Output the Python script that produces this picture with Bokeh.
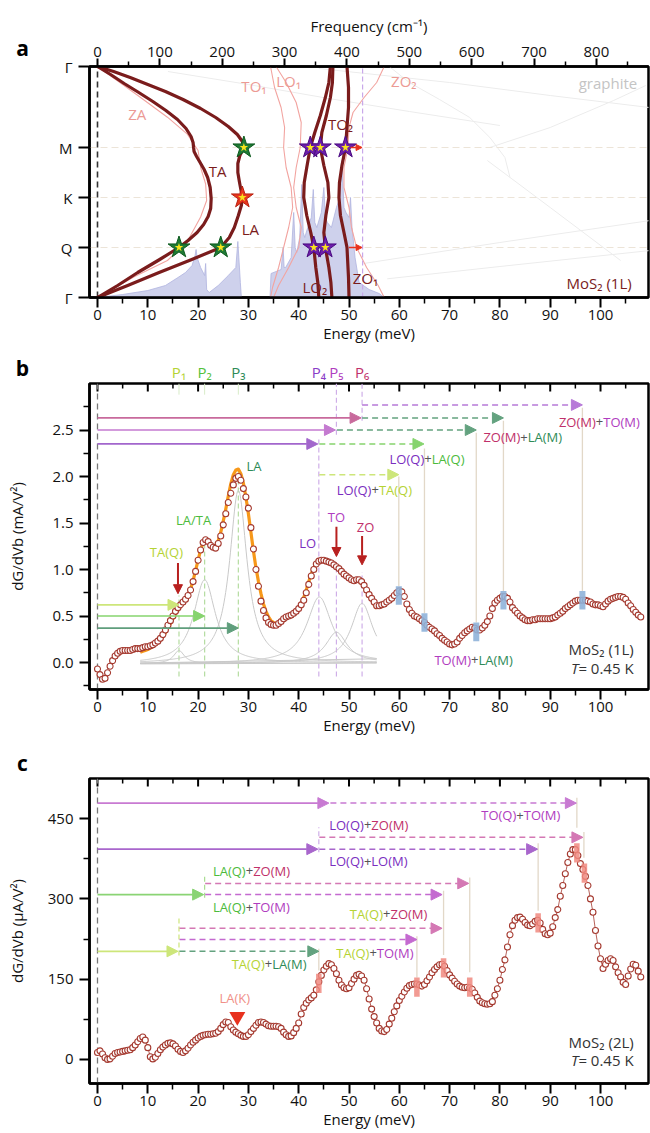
import numpy as np
from bokeh.plotting import figure
from bokeh.models import (Range1d, LinearAxis, FixedTicker, Arrow, NormalHead,
                          ColumnDataSource, PrintfTickFormatter)
from bokeh.layouts import column, row
from bokeh.embed import file_html
from bokeh.resources import INLINE
from bokeh.core.properties import value

FONT = "Open Sans"

# ============================ DATA ============================
E_RANGE = (-1.59, 109.54)
CM_PER_MEV = 8.0655
E_TICKS = list(range(0, 101, 10))
E_MINOR = list(range(5, 110, 10))
FREQ_TICKS = list(range(0, 801, 100))
FREQ_MINOR = list(range(50, 900, 100))

# ---- panel a : dispersion, y = path coordinate (Γ-Q-K-M-Γ) ----
K_TICKS = [0, 50, 100, 150, 231]
K_LABELS = ["Γ", "Q", "K", "M", "Γ"]

TA_E = [0, 4.0, 8.0, 12.2, 16.2, 18.0, 19.8, 21.1, 22.0, 22.5, 22.6, 22.4, 21.9, 21.2, 20.4,
        19.7, 19.2, 19.1, 19.0, 18.6, 17.6, 15.9, 13.6, 11.0, 8.2, 5.3, 2.6, 0]
TA_K = [0, 12, 25, 37.5, 50, 57, 65, 73, 81, 89, 99, 110, 120, 128, 135,
        141, 146, 150, 155, 161, 169, 178, 187, 196, 205, 214, 223, 231]
LA_E = [0, 6, 12, 18.5, 24.5, 26.2, 27.2, 28.0, 28.6, 28.8, 28.5, 28.2, 27.9, 27.9, 28.3, 29.1,
        28.8, 27.8, 26.0, 23.5, 20.5, 17.0, 13.5, 10.0, 6.5, 3.2, 0]
LA_K = [0, 12, 24.5, 37.5, 50, 60, 70, 82, 92, 100, 108, 116, 125, 134, 142, 150,
        156, 163, 171, 180, 189, 198, 206, 213, 220, 226, 231]
OPT1_E = [44.0, 43.8, 43.4, 43.0, 42.4, 41.6, 41.0, 41.1, 41.6, 42.3, 43.2, 44.3, 45.3, 46.0, 46.3]
OPT1_K = [0, 15, 30, 50, 65, 82, 100, 115, 130, 150, 165, 182, 200, 215, 231]
OPT2_E = [46.6, 46.4, 46.0, 45.3, 45.0, 45.4, 46.0, 45.8, 45.0, 44.3, 44.6, 45.5, 46.3, 46.7, 46.8]
OPT2_K = [0, 15, 30, 50, 65, 82, 100, 115, 132, 150, 165, 182, 200, 215, 231]
OPT3_E = [50.0, 49.9, 49.7, 49.6, 49.0, 48.3, 48.0, 48.1, 48.6, 49.3, 49.6, 49.9, 49.9, 49.6]
OPT3_K = [0, 20, 40, 50, 65, 82, 100, 115, 132, 150, 170, 190, 210, 231]

ZA_E = [0, 7.2, 13.9, 17.8, 20.5, 21.7, 21.5, 20.5, 20.0, 17.8, 13.9, 8.5, 3.9, 0]
ZA_K = [0, 20.5, 37, 55.5, 80.5, 97, 113.5, 130, 147, 163.7, 180.3, 200.3, 217, 231]
TO1_E = [34.4, 34.8, 36.0, 37.0, 38.0, 38.8, 38.5, 37.5, 37.0, 37.2, 36.5, 35.2, 34.4]
TO1_K = [0, 10, 30, 50, 70, 90, 110, 130, 150, 170, 190, 210, 231]
LO1_E = [35.0, 36.0, 38.0, 40.0, 40.5, 39.5, 39.0, 39.5, 40.3, 40.5, 39.5, 37.5, 35.5]
LO1_K = [0, 12, 30, 50, 70, 90, 110, 130, 150, 175, 195, 215, 231]
ZO2_E = [57.0, 55.8, 53.5, 51.5, 50.5, 50.0, 49.0, 49.0, 49.8, 50.0, 50.8, 53.0, 55.5, 57.0]
ZO2_K = [0, 12, 30, 50, 70, 90, 110, 130, 150, 170, 185, 200, 215, 231]

DOS_E = [0, 5, 10, 13.5, 16, 17.5, 18.8, 19.4, 19.6, 19.8, 20.5, 21.3, 21.5, 21.7, 22.2, 24, 26,
         27.5, 27.9, 28.1, 28.4, 28.6, 34.3, 34.5, 36.5, 36.9, 37.1, 37.4, 38.5, 39.0, 39.3,
         39.6, 40.2, 40.6, 40.9, 41.2, 41.8, 42.5, 42.9, 43.2, 43.6, 44.5, 45.0, 45.3, 45.7,
         46.5, 47.5, 48.2, 48.6, 49.0, 49.4, 50.0, 50.3, 50.6, 51.2, 52, 54, 56, 57]
DOS_H = [0, 3, 7, 12, 20, 25, 32, 42, 48, 40, 30, 22, 34, 8, 5, 12, 22,
         30, 56, 40, 15, 0, 0, 24, 28, 50, 30, 30, 40, 85, 50,
         45, 60, 113, 65, 60, 70, 80, 108, 75, 70, 85, 110, 80, 75,
         70, 90, 100, 137, 90, 85, 80, 100, 70, 40, 15, 8, 4, 0]

GRAPHITE = [
    ([44, 70, 90, 109.7], [229, 215, 202, 190]),
    ([14, 30, 46, 62, 80], [226, 213, 199, 186, 172]),
    ([58, 62, 68, 74, 78, 81, 82], [231, 215, 198, 180, 160, 140, 120]),
    ([78, 90, 102.6, 109], [150, 170, 197, 212]),
    ([57.6, 80, 109.9], [18.7, 31, 47]),
    ([52.9, 80, 109.9], [34, 55, 77]),
    ([77.5, 90, 104], [137, 90, 37]),
]

STAR_GREEN = ([16.2, 24.5, 29.1], [50, 50, 150])
STAR_RED = ([28.8], [100])
STAR_PURPLE = ([43.0, 45.3, 42.3, 44.3, 49.3], [50, 50, 150, 150, 150])

# ---- panel b : MoS2 1L, dG/dVb (mA/V^2), 0.5 meV steps from 0 ----
B_E0, B_STEP = 0.0, 0.5
B_VALS = [
    -0.07, -0.13, -0.18, -0.17, -0.11, -0.04, 0.02, 0.07, 0.10, 0.12,
    0.13, 0.13, 0.13, 0.13, 0.14, 0.15, 0.15, 0.15, 0.16, 0.17,
    0.17, 0.18, 0.19, 0.21, 0.23, 0.26, 0.30, 0.35, 0.40, 0.45,
    0.50, 0.55, 0.59, 0.62, 0.65, 0.68, 0.72, 0.78, 0.87, 0.98,
    1.10, 1.21, 1.29, 1.32, 1.30, 1.26, 1.24, 1.23, 1.28, 1.36,
    1.48, 1.60, 1.72, 1.82, 1.91, 1.98, 2.00, 1.96, 1.87, 1.78,
    1.66, 1.45, 1.22, 1.00, 0.82, 0.66, 0.56, 0.48, 0.43, 0.41,
    0.40, 0.40, 0.42, 0.44, 0.47, 0.49, 0.50, 0.51, 0.53, 0.55,
    0.58, 0.62, 0.67, 0.75, 0.84, 0.93, 1.00, 1.06, 1.09, 1.10,
    1.10, 1.09, 1.08, 1.07, 1.05, 1.03, 1.01, 0.98, 0.95, 0.93,
    0.91, 0.89, 0.88, 0.89, 0.89, 0.87, 0.83, 0.78, 0.73, 0.69,
    0.65, 0.61, 0.61, 0.62, 0.63, 0.65, 0.67, 0.69, 0.72, 0.75,
    0.77, 0.76, 0.71, 0.63, 0.57, 0.53, 0.50, 0.49, 0.47, 0.45,
    0.43, 0.40, 0.38, 0.36, 0.34, 0.31, 0.29, 0.26, 0.24, 0.22,
    0.20, 0.19, 0.20, 0.22, 0.26, 0.29, 0.32, 0.34, 0.36, 0.38,
    0.37, 0.35, 0.35, 0.37, 0.40, 0.44, 0.50, 0.58, 0.64, 0.67,
    0.69, 0.71, 0.71, 0.69, 0.65, 0.59, 0.56, 0.53, 0.50, 0.48,
    0.46, 0.45, 0.45, 0.46, 0.46, 0.47, 0.47, 0.47, 0.47, 0.47,
    0.47, 0.48, 0.49, 0.51, 0.53, 0.55, 0.58, 0.60, 0.62, 0.64,
    0.66, 0.67, 0.67, 0.67, 0.67, 0.66, 0.65, 0.63, 0.62, 0.62,
    0.61, 0.60, 0.63, 0.66, 0.68, 0.69, 0.70, 0.71, 0.71, 0.70,
    0.68, 0.64, 0.61, 0.57, 0.54, 0.51, 0.49]
B_FIT_E0 = 8.5
B_FIT = [
    0.11, 0.12, 0.13, 0.14, 0.155, 0.17, 0.19, 0.21, 0.24,
    0.28, 0.32, 0.37, 0.42, 0.47, 0.52, 0.56, 0.60, 0.64, 0.68,
    0.73, 0.79, 0.88, 0.99, 1.10, 1.21, 1.29, 1.32, 1.31, 1.27,
    1.25, 1.26, 1.31, 1.40, 1.52, 1.65, 1.79, 1.92, 2.02, 2.07,
    2.08, 2.03, 1.93, 1.78, 1.60, 1.40, 1.20, 1.02, 0.87, 0.74,
    0.63, 0.55, 0.49, 0.45, 0.43, 0.42, 0.42, 0.43, 0.45, 0.47,
    0.49, 0.51, 0.53, 0.56, 0.59, 0.64, 0.70, 0.78, 0.87, 0.95,
    1.02, 1.07, 1.09, 1.10, 1.09, 1.08, 1.07, 1.06, 1.04, 1.02,
    0.99, 0.96, 0.94, 0.92, 0.90, 0.89, 0.88, 0.88, 0.87, 0.85,
    0.81, 0.77, 0.72, 0.67, 0.62, 0.58]
# Lorentzian components of the fit (centre, amplitude, half width)
LOR_C = [16.2, 21.3, 28.0, 44.1, 47.5, 52.6]
LOR_A = [0.14, 0.90, 1.86, 0.71, 0.33, 0.64]
LOR_W = [1.3, 2.6, 2.1, 3.0, 2.6, 2.6]
FIT_RANGE = (8.5, 55.5)

P_NAMES = ["P₁", "P₂", "P₃", "P₄", "P₅", "P₆"]
P_E = [16.2, 21.3, 28.0, 44.0, 47.5, 52.6]

B_ARROWS = [  # x_start, y, x_end, colour, dashed
    (0, 2.63, 52.4, "#c86a9c", False), (52.6, 2.63, 80.7, "#63a27f", True),
    (0, 2.50, 47.3, "#c47ad0", False), (47.6, 2.50, 75.3, "#63a27f", True),
    (0, 2.35, 43.8, "#a266cc", False), (44.1, 2.35, 64.9, "#86d46e", True),
    (44.1, 2.02, 59.9, "#cde67a", True), (52.6, 2.77, 96.4, "#b77ad8", True),
    (0, 0.62, 16.2, "#cde67a", False), (0, 0.50, 21.3, "#86d46e", False),
    (0, 0.37, 28.0, "#5f9e7c", False)]
B_MARK_E = [59.9, 65.0, 75.3, 80.7, 96.4]
B_MARK_Y = [0.72, 0.43, 0.33, 0.67, 0.67]
B_MARK_TOP = [2.0, 2.3, 2.47, 2.6, 2.74]

# ---- panel c : MoS2 2L, dG/dVb (µA/V^2), 0.5 meV steps from 0 ----
C_E0, C_STEP = 0.0, 0.5
C_VALS = [
    13, 16, 10, 3, 0, 1, 6, 11, 13, 14,
    15, 16, 17, 18, 22, 27, 33, 39, 42, 36,
    22, 5, 1, 4, 11, 18, 23, 27, 30, 31,
    29, 25, 19, 15, 13, 16, 21, 27, 32, 36,
    40, 43, 45, 46, 47, 47, 48, 49, 52, 58,
    65, 70, 69, 61, 55, 51, 48, 45, 43, 43,
    46, 52, 58, 64, 69, 70, 69, 66, 63, 62,
    62, 62, 61, 58, 51, 46, 43, 44, 50, 58,
    68, 85, 97, 105, 111, 115, 120, 130, 145, 157,
    167, 174, 179, 177, 170, 160, 148, 139, 134, 132,
    134, 142, 150, 157, 159, 156, 148, 132, 113, 94,
    80, 68, 58, 53, 52, 56, 66, 77, 89, 100,
    110, 118, 126, 133, 138, 140, 141, 141, 139, 137,
    140, 147, 154, 162, 168, 173, 177, 178, 174, 166,
    158, 152, 146, 141, 137, 135, 134, 135, 134, 131,
    124, 116, 109, 106, 104, 103, 104, 108, 120, 132,
    148, 168, 186, 210, 233, 250, 260, 265, 266, 262,
    256, 251, 250, 253, 258, 260, 255, 243, 235, 233,
    236, 248, 265, 280, 305, 325, 347, 368, 384, 392,
    392, 381, 366, 355, 342, 325, 300, 275, 241, 212,
    188, 170, 178, 185, 188, 185, 173, 162, 154, 144,
    140, 156, 169, 178, 176, 165, 154]
C_ARROWS = [
    (0, 479, 46.0, "#c87ad2", False), (46.3, 479, 95.2, "#c87ad2", True),
    (44.1, 415, 96.5, "#d478b4", True),
    (0, 393, 43.8, "#a866cc", False), (44.1, 393, 87.5, "#a866cc", True),
    (21.4, 329, 73.8, "#d478b4", True),
    (0, 308, 21.1, "#8ad474", False), (21.4, 308, 68.5, "#c46ad0", True),
    (16.3, 245, 68.5, "#d478b4", True), (16.3, 224, 63.5, "#c46ad0", True),
    (0, 202, 16.0, "#cde67a", False), (16.3, 202, 44.0, "#63a27f", True)]
C_MARK_E = [44.0, 63.5, 68.8, 74.0, 87.6, 95.3, 96.8]
C_MARK_Y = [142, 135, 171, 135, 255, 386, 348]
C_TAN = [(95.3, 489, 433), (96.7, 425, 377), (87.6, 404, 278), (74.0, 340, 163),
         (68.8, 315, 195), (63.5, 230, 153), (44.0, 207, 166)]

# ============================ STYLE HELPERS ============================
W, BL, BR = 650, 89, 2
FRAME_W = W - BL - BR
PX_PER_MEV = FRAME_W / (E_RANGE[1] - E_RANGE[0])
FULL_X = (E_RANGE[0] - BL / PX_PER_MEV, E_RANGE[1] + BR / PX_PER_MEV)
LETTER_X = FULL_X[0] + 22 / PX_PER_MEV
DARK = "#7a1c1c"
PINK = "#f2a4a0"
PINK_T = "#ec9a94"
C_TA, C_LAQ, C_LAM = "#b5d334", "#4cbb3c", "#2e8b57"
C_LO, C_TO, C_ZO, C_PL = "#7a2ec0", "#b03cc0", "#c0306a", "#555555"
TAN = "#e2d8c8"


def make_fig(w, h, yr, bl, bt, bb):
    p = figure(width=w, height=h, x_range=Range1d(*E_RANGE), y_range=yr,
               output_backend="svg", toolbar_location=None, frame_align=False,
               min_border_left=bl, min_border_right=BR, min_border_top=bt,
               min_border_bottom=bb, x_axis_location=None, y_axis_location=None)
    p.grid.visible = False
    p.outline_line_color = "black"
    p.outline_line_width = 2.5
    p.outline_line_alpha = 1.0
    p.background_fill_color = "white"
    p.border_fill_color = "white"
    return p


def strip(w, h, xr):
    p = figure(width=w, height=h, x_range=Range1d(*xr), y_range=Range1d(0, h),
               output_backend="svg", toolbar_location=None, min_border=0,
               frame_align=False, x_axis_location=None, y_axis_location=None)
    p.grid.visible = False
    p.outline_line_color = None
    p.background_fill_color = "white"
    p.border_fill_color = "white"
    return p


def style(ax):
    ax.axis_line_width = 2.5
    ax.major_tick_line_width = 2
    ax.minor_tick_line_width = 1.5
    ax.major_tick_out = 10
    ax.major_tick_in = 0
    ax.minor_tick_out = 6
    ax.minor_tick_in = 0
    ax.major_label_text_font = FONT
    ax.major_label_text_font_size = "15px"
    ax.major_label_text_color = "#111111"
    ax.axis_label_text_font = FONT
    ax.axis_label_text_font_size = "15px"
    ax.axis_label_text_font_style = "normal"
    ax.axis_label_text_color = "#111111"
    ax.major_label_standoff = 2
    ax.axis_label_standoff = 0


def energy_axis(p):
    ax = LinearAxis(ticker=FixedTicker(ticks=E_TICKS, minor_ticks=E_MINOR),
                    axis_label="Energy (meV)")
    style(ax)
    p.add_layout(ax, "below")
    return ax


def value_axis(p, ticks, minor, label, standoff, fmt=None):
    ax = LinearAxis(ticker=FixedTicker(ticks=ticks, minor_ticks=minor), axis_label=label)
    if fmt is not None:
        ax.formatter = fmt
    style(ax)
    ax.major_label_standoff = 6
    ax.axis_label_standoff = standoff
    p.add_layout(ax, "left")


def inner_top_ticks(p, ytop, per_px):
    p.segment(x0=E_TICKS, x1=E_TICKS, y0=[ytop] * len(E_TICKS),
              y1=[ytop - 8 * per_px] * len(E_TICKS), line_color="black", line_width=2)
    p.segment(x0=E_MINOR, x1=E_MINOR, y0=[ytop] * len(E_MINOR),
              y1=[ytop - 5 * per_px] * len(E_MINOR), line_color="black", line_width=1.5)


def draw_texts(p, items):
    groups = {}
    for it in items:
        key = (it.get("al", "center"), it.get("st", "normal"), it.get("sz", 13))
        groups.setdefault(key, []).append(it)
    for (al, st, sz), its in groups.items():
        src = ColumnDataSource(dict(x=[i["x"] for i in its], y=[i["y"] for i in its],
                                    t=[i["t"] for i in its], c=[i["c"] for i in its],
                                    xo=[i.get("xo", 0) for i in its]))
        p.text(x="x", y="y", text="t", source=src, text_color="c", x_offset="xo",
               text_align=al, text_baseline="middle", text_font=value(FONT),
               text_font_size=f"{sz}px", text_font_style=st)


def combo(items, x, y, a, ca, b, cb, sz=13):
    hw = 0.572 * sz / 2
    items.append(dict(x=x, y=y, t=a, c=ca, al="right", xo=-hw, sz=sz))
    items.append(dict(x=x, y=y, t="+", c=C_PL, al="center", sz=sz))
    items.append(dict(x=x, y=y, t=b, c=cb, al="left", xo=hw, sz=sz))


def arrow(p, x0, y0, x1, y1, color, dashed=False, width=1.7, head=11):
    p.add_layout(Arrow(end=NormalHead(size=head, fill_color=color, line_color=color,
                                      line_width=1),
                       x_start=x0, y_start=y0, x_end=x1, y_end=y1,
                       line_color=color, line_width=width,
                       line_dash="6 4" if dashed else "solid"))

# ============================ PANEL A ============================
A_H, A_LW = 352, 40
pa = make_fig(W - A_LW, A_H, Range1d(0, 231), BL - A_LW, 66, 55)
pa.extra_x_ranges = {"freq": Range1d(E_RANGE[0] * CM_PER_MEV, E_RANGE[1] * CM_PER_MEV)}
energy_axis(pa)
axt = LinearAxis(x_range_name="freq",
                 ticker=FixedTicker(ticks=FREQ_TICKS, minor_ticks=FREQ_MINOR),
                 axis_label="Frequency (cm⁻¹)")
style(axt)
axt.major_tick_out = 8
axt.minor_tick_out = 5
axt.axis_label_standoff = 8
pa.add_layout(axt, "above")
axl = LinearAxis(ticker=FixedTicker(ticks=K_TICKS),
                 major_label_overrides={k: l for k, l in zip(K_TICKS, K_LABELS)})
style(axl)
axl.major_tick_out = 11
axl.minor_tick_out = 0
axl.major_label_standoff = 6
pa.add_layout(axl, "left")

for ge, gk in GRAPHITE:
    pa.line(ge, gk, line_color="#ececec", line_width=1)
pa.segment(x0=[E_RANGE[0]] * 3, x1=[E_RANGE[1]] * 3, y0=K_TICKS[1:4], y1=K_TICKS[1:4],
           line_color="#ece4d8", line_width=1.2, line_dash="7 4")
pa.varea(x=DOS_E, y1=[0] * len(DOS_E), y2=DOS_H, fill_color="#c6c9e9", fill_alpha=0.85)
pa.line(DOS_E, DOS_H, line_color="#b0b4e0", line_width=0.8)
for ce, ck in [(ZA_E, ZA_K), (TO1_E, TO1_K), (LO1_E, LO1_K), (ZO2_E, ZO2_K)]:
    pa.line(ce, ck, line_color=PINK, line_width=1.1)
pa.segment(x0=[0], x1=[0], y0=[0], y1=[231], line_color="#333333", line_width=1.6,
           line_dash="6 4")
pa.segment(x0=[52.7], x1=[52.7], y0=[0], y1=[231], line_color="#c9a8ea", line_width=1.2,
           line_dash="5 3")
for ce, ck in [(TA_E, TA_K), (LA_E, LA_K), (OPT1_E, OPT1_K), (OPT2_E, OPT2_K),
               (OPT3_E, OPT3_K)]:
    pa.line(ce, ck, line_color=DARK, line_width=3.2, line_join="round", line_cap="round")
for (se, sk), fc, lc in [(STAR_GREEN, "#1f7a35", "#0d5a1e"), (STAR_RED, "#e8371f", "#b8200f"),
                         (STAR_PURPLE, "#6d1eaa", "#4a0a80")]:
    pa.scatter(se, sk, marker="star", size=23, fill_color=fc, line_color=lc, line_width=1)
    pa.scatter(se, sk, marker="star", size=9, fill_color="#f8e41c", line_color=None)
arrow(pa, 50.3, 150, 52.6, 150, "#e8321e", width=1.6, head=6)
arrow(pa, 50.0, 50, 52.6, 50, "#e8321e", width=1.6, head=6)

ta_items = []
for x, y, t, c in [(7.9, 184, "ZA", PINK_T), (23.9, 127, "TA", DARK), (30.4, 69, "LA", DARK),
                   (31.1, 212, "TO₁", PINK_T), (38.0, 217, "LO₁", PINK_T),
                   (48.3, 174, "TO₂", DARK), (60.9, 217, "ZO₂", PINK_T),
                   (43.2, 11, "LO₂", DARK), (53.3, 20, "ZO₁", DARK)]:
    ta_items.append(dict(x=x, y=y, t=t, c=c, sz=15))
ta_items.append(dict(x=107.3, y=215, t="graphite", c="#c4c4c4", al="right", sz=15))
ta_items.append(dict(x=106.2, y=15, t="MoS₂ (1L)", c=DARK, al="right", sz=15))
draw_texts(pa, ta_items)

sa = strip(A_LW, A_H, (0, A_LW))
draw_texts(sa, [dict(x=22, y=A_H - 47, t="a", c="black", sz=21, st="bold")])
row_a = row(sa, pa)

# ============================ PANEL B ============================
SB_H = 29
sb = strip(W, SB_H, FULL_X)
sb_items = [dict(x=e, y=9.5, t=n, c=c, sz=15) for n, e, c in
            zip(P_NAMES, P_E, [C_TA, "#55c23a", C_LAM, "#8a3cc8", "#b03cc0", C_ZO])]
sb_items.append(dict(x=LETTER_X, y=13.5, t="b", c="black", sz=21, st="bold"))
draw_texts(sb, sb_items)

B_Y = (-0.29, 3.0)
B_FRAME_H = 306
pb = make_fig(W, 2 + B_FRAME_H + 52, Range1d(*B_Y), BL, 2, 52)
energy_axis(pb)
value_axis(pb, [0, 0.5, 1.0, 1.5, 2.0, 2.5], [-0.25, 0.25, 0.75, 1.25, 1.75, 2.25, 2.75],
           "dG/dVb (mA/V²)", 22, PrintfTickFormatter(format="%.1f"))
inner_top_ticks(pb, B_Y[1], (B_Y[1] - B_Y[0]) / B_FRAME_H)

pb.segment(x0=[0], x1=[0], y0=[B_Y[0]], y1=[B_Y[1]], line_color="#777777", line_width=1.3,
           line_dash="6 4")
pb.segment(x0=P_E[:3], x1=P_E[:3], y0=[-0.15] * 3, y1=[0.72, 1.35, 2.05],
           line_color="#b4dca0", line_width=1.2, line_dash="5 3")
pb.segment(x0=P_E[:3], x1=P_E[:3], y0=[2.88] * 3, y1=[3.0] * 3,
           line_color="#d8ecc8", line_width=1)
pb.segment(x0=[44.0, 47.5, 52.6, 47.5, 52.6], x1=[44.0, 47.5, 52.6, 47.5, 52.6],
           y0=[-0.15, -0.15, -0.15, 2.45, 2.6], y1=[2.42, 1.08, 0.97, 3.0, 3.0],
           line_color="#cfaee8", line_width=1.2, line_dash="5 3")
pb.segment(x0=B_MARK_E, x1=B_MARK_E, y0=[y + 0.1 for y in B_MARK_Y], y1=B_MARK_TOP,
           line_color=TAN, line_width=1.3)

eg = np.linspace(FIT_RANGE[0], FIT_RANGE[1], 300)
base = -0.012 + (eg - FIT_RANGE[0]) * 0.0002
for c, a, w in zip(LOR_C, LOR_A, LOR_W):
    pb.line(eg, base + a * w ** 2 / ((eg - c) ** 2 + w ** 2), line_color="#c9c9c9",
            line_width=1)
pb.line([FIT_RANGE[0], FIT_RANGE[1]], [-0.015, -0.005], line_color="#c9c9c9", line_width=1)
pb.line([FIT_RANGE[0], FIT_RANGE[1]], [-0.005, 0.04], line_color="#c9c9c9", line_width=1)

fit_e = [B_FIT_E0 + i * 0.5 for i in range(len(B_FIT))]
pb.line(fit_e, B_FIT, line_color="#f7981a", line_width=3.2, line_join="round")
b_e = [B_E0 + i * B_STEP for i in range(len(B_VALS))]
pb.scatter(b_e, B_VALS, marker="circle", size=6, fill_color="white", line_color="#a53a30",
           line_width=1.1)
pb.rect(x=B_MARK_E, y=B_MARK_Y, width=1.2, height=0.2, fill_color="#8fb3d9",
        fill_alpha=0.9, line_color=None)

for x0, y, x1, c, d in B_ARROWS:
    arrow(pb, x0, y, x1, y, c, dashed=d, width=1.7 if not d else 1.5)
for x, y0, y1 in [(16.0, 1.07, 0.74), (47.5, 1.46, 1.14), (52.6, 1.36, 1.05)]:
    arrow(pb, x, y0, x, y1, "#b8201f", width=2, head=9)

tb = []
combo(tb, 55.2, 1.86, "LO(Q)", C_LO, "TA(Q)", C_TA)
combo(tb, 65.7, 2.19, "LO(Q)", C_LO, "LA(Q)", C_LAQ)
combo(tb, 84.8, 2.42, "ZO(M)", C_ZO, "LA(M)", C_LAM)
combo(tb, 99.8, 2.59, "ZO(M)", C_ZO, "TO(M)", C_TO)
combo(tb, 75.0, 0.03, "TO(M)", C_TO, "LA(M)", C_LAM)
for x, y, t, c in [(13.7, 1.19, "TA(Q)", C_TA), (19.1, 1.53, "LA/TA", C_LAQ),
                   (31.1, 2.11, "LA", C_LAM), (41.8, 1.29, "LO", C_LO),
                   (47.5, 1.57, "TO", C_TO), (53.3, 1.46, "ZO", C_ZO)]:
    tb.append(dict(x=x, y=y, t=t, c=c, sz=13))
tb.append(dict(x=106.6, y=0.15, t="MoS₂ (1L)", c="#333333", al="right", sz=15))
tb.append(dict(x=95.6, y=-0.06, t="T", c="#333333", al="right", st="italic", sz=15))
tb.append(dict(x=95.6, y=-0.06, t=" = 0.45 K", c="#333333", al="left", sz=15))
draw_texts(pb, tb)

# ============================ PANEL C ============================
SC_H = 35
sc = strip(W, SC_H, FULL_X)
draw_texts(sc, [dict(x=LETTER_X, y=13.5, t="c", c="black", sz=21, st="bold")])

C_Y = (-45, 525)
C_FRAME_H = 305
pc = make_fig(W, 2 + C_FRAME_H + 50, Range1d(*C_Y), BL, 2, 50)
energy_axis(pc)
value_axis(pc, [0, 150, 300, 450], [75, 225, 375], "dG/dVb (µA/V²)", 18)
inner_top_ticks(pc, C_Y[1], (C_Y[1] - C_Y[0]) / C_FRAME_H)

pc.segment(x0=[0], x1=[0], y0=[C_Y[0]], y1=[C_Y[1]], line_color="#777777", line_width=1.3,
           line_dash="6 4")
pc.segment(x0=[44.0], x1=[44.0], y0=[387], y1=[434], line_color="#cfaee8", line_width=1.2,
           line_dash="5 3")
pc.segment(x0=[21.3], x1=[21.3], y0=[302], y1=[346], line_color="#a8dc90", line_width=1.2,
           line_dash="5 3")
pc.segment(x0=[16.2], x1=[16.2], y0=[194], y1=[266], line_color="#cde67a", line_width=1.2,
           line_dash="5 3")
pc.segment(x0=[t[0] for t in C_TAN], x1=[t[0] for t in C_TAN], y0=[t[1] for t in C_TAN],
           y1=[t[2] for t in C_TAN], line_color=TAN, line_width=1.3)

c_e = [C_E0 + i * C_STEP for i in range(len(C_VALS))]
pc.line(c_e, C_VALS, line_color="#a53a30", line_width=0.8)
pc.scatter(c_e, C_VALS, marker="circle", size=6, fill_color="white", line_color="#a53a30",
           line_width=1.1)
pc.rect(x=C_MARK_E, y=C_MARK_Y, width=1.1, height=36, fill_color="#f08a80",
        fill_alpha=0.85, line_color=None)
pc.scatter([27.8], [80], marker="inverted_triangle", size=16, fill_color="#e8321e",
           line_color=None)

for x0, y, x1, c, d in C_ARROWS:
    arrow(pc, x0, y, x1, y, c, dashed=d, width=1.7 if not d else 1.5)

tc = []
combo(tc, 84.0, 456, "TO(Q)", C_TO, "TO(M)", C_TO)
combo(tc, 53.7, 439, "LO(Q)", C_LO, "ZO(M)", C_ZO)
combo(tc, 53.7, 370, "LO(Q)", C_LO, "LO(M)", C_LO)
combo(tc, 30.2, 353, "LA(Q)", C_LAQ, "ZO(M)", C_ZO)
combo(tc, 30.2, 284, "LA(Q)", C_LAQ, "TO(M)", C_TO)
combo(tc, 57.5, 272, "TA(Q)", C_TA, "ZO(M)", C_ZO)
combo(tc, 54.8, 199, "TA(Q)", C_TA, "TO(M)", C_TO)
combo(tc, 34.0, 179, "TA(Q)", C_TA, "LA(M)", C_LAM)
tc.append(dict(x=27.3, y=115, t="LA(K)", c="#f09088", sz=13))
tc.append(dict(x=106.6, y=32, t="MoS₂ (2L)", c="#333333", al="right", sz=15))
tc.append(dict(x=95.6, y=-2, t="T", c="#333333", al="right", st="italic", sz=15))
tc.append(dict(x=95.6, y=-2, t=" = 0.45 K", c="#333333", al="left", sz=15))
draw_texts(pc, tc)

layout = column(row_a, sb, pb, sc, pc)
open("out.html", "w").write(file_html(layout, INLINE))
